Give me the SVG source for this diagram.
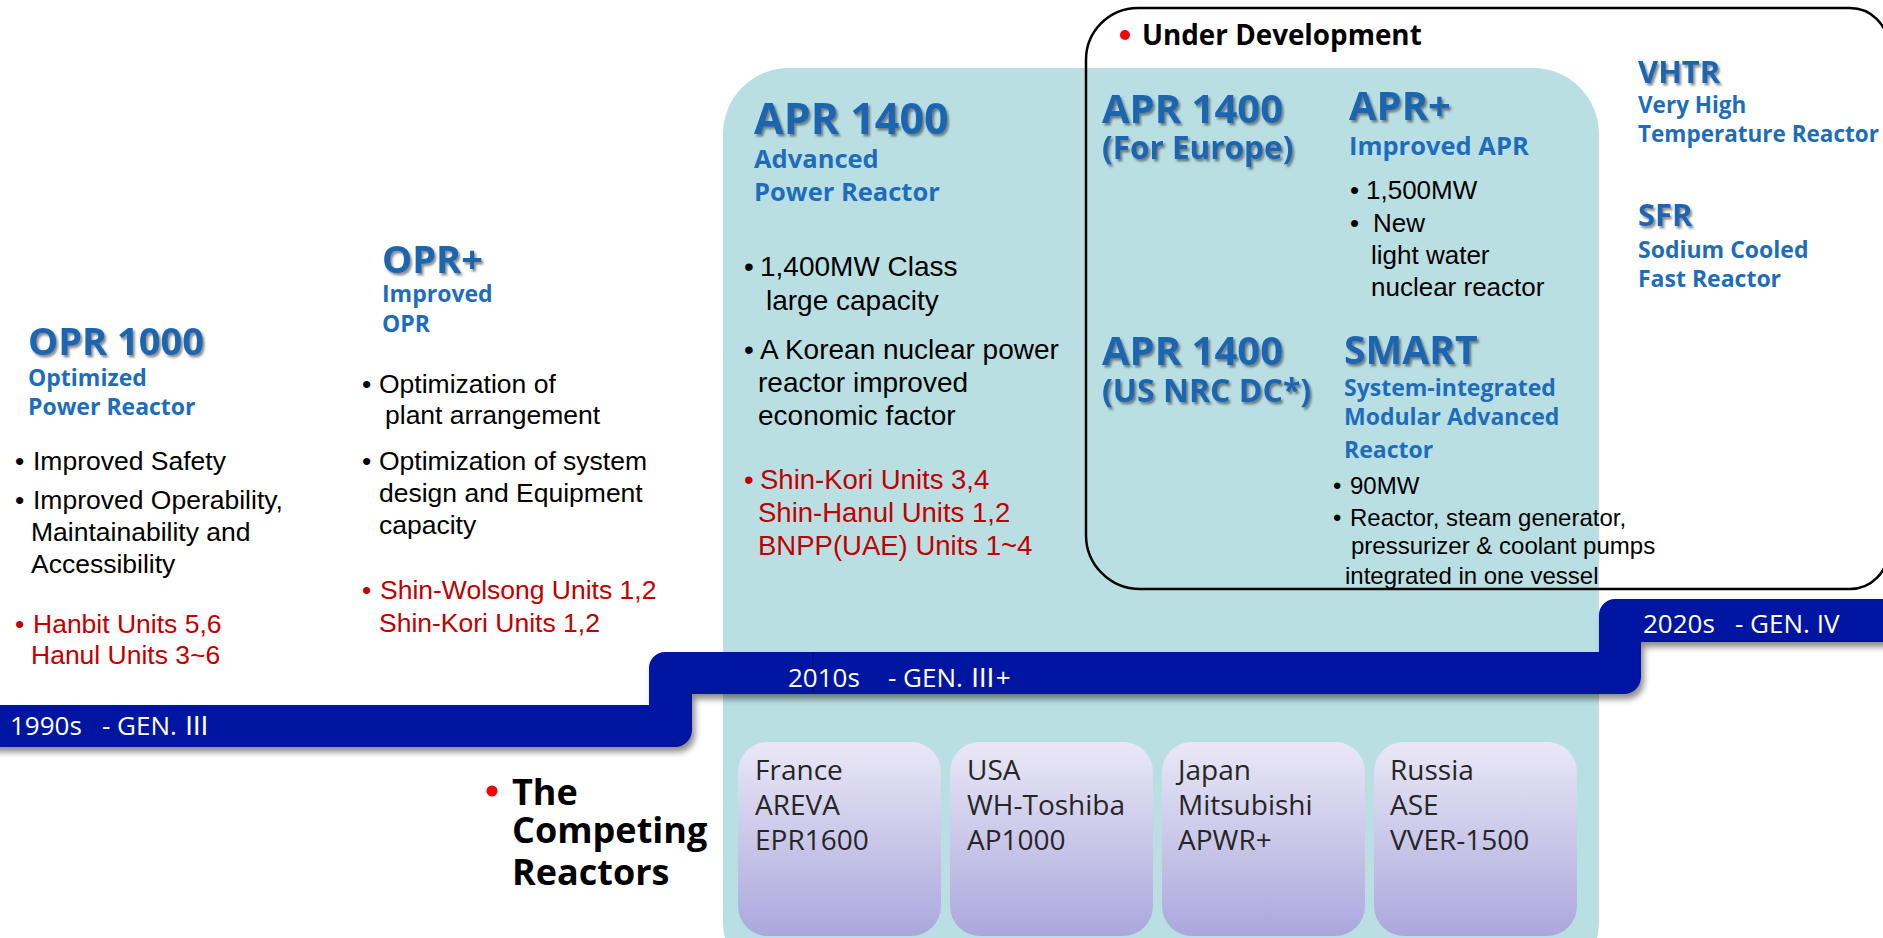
<svg xmlns="http://www.w3.org/2000/svg" width="1883" height="938" viewBox="0 0 1883 938">
  <defs>
    <filter id="txtShadow" x="-10%" y="-20%" width="130%" height="160%">
      <feDropShadow dx="2" dy="2.5" stdDeviation="1.2" flood-color="#333" flood-opacity="0.55"/>
    </filter>
    <filter id="bandShadow" x="-5%" y="-20%" width="110%" height="150%">
      <feDropShadow dx="3" dy="5" stdDeviation="3" flood-color="#000" flood-opacity="0.45"/>
    </filter>
    <linearGradient id="boxFill" x1="0" y1="0" x2="0" y2="1">
      <stop offset="0" stop-color="#EAE8F6"/>
      <stop offset="1" stop-color="#ABA7DD"/>
    </linearGradient>
  </defs>
  <style>
    .title { font-family: "Open Sans", "Noto Sans", sans-serif; font-weight: 700; fill: #1B66B1; filter: url(#txtShadow); }
    .sub { font-family: "Open Sans", "Noto Sans", sans-serif; font-weight: 700; fill: #1E6DBB; }
    .body { font-family: "Liberation Sans", Arial, sans-serif; fill: #000; }
    .red { fill: #C00000; }
    .head { font-family: "Open Sans", "Noto Sans", sans-serif; font-weight: 700; fill: #000; }
    .dot { fill: #FF0000; }
    .band-label { font-family: "Open Sans", "Noto Sans CJK KR", sans-serif; font-size: 26px; fill: #fff; }
    .comp { font-family: "Open Sans", "Noto Sans", sans-serif; font-size: 28px; fill: #262626; }
    .cbox { fill: url(#boxFill); }
  </style>

  <rect width="1883" height="938" fill="#fff"/>

  <!-- light blue APR 1400 era panel -->
  <rect id="panel-apr" x="723" y="68" width="876" height="920" rx="66" fill="#BADFE3"/>

  <!-- outline around the designs under development -->
  <g id="under-development">
    <path d="M1138 8 H1850 A38 38 0 0 1 1888 46 V551 A38 38 0 0 1 1850 589 H1140 A54 54 0 0 1 1086 535 V60 A52 52 0 0 1 1138 8 Z" fill="none" stroke="#000" stroke-width="2.5"/>
    <circle class="dot" cx="1125" cy="35" r="5"/>
    <text class="head" x="1142" y="45" font-size="27.8">Under Development</text>
  </g>

  <!-- stepped timeline band -->
  <g id="timeline">
    <path d="M-10 705 H649 V668 A16 16 0 0 1 665 652 H1599 V615 A16 16 0 0 1 1615 599 H1893 V642 H1641 V677 A17 17 0 0 1 1624 694 H692 V730 A17 17 0 0 1 675 747 H-10 Z" fill="#0512A3" filter="url(#bandShadow)"/>
    <line x1="813" y1="652" x2="813" y2="694" stroke="#000A55" stroke-width="1.5" opacity="0.7"/>
    <text class="band-label" x="10" y="735">1990s<tspan x="102">- GEN. Ⅲ</tspan></text>
    <text class="band-label" x="788" y="687">2010s<tspan x="888">- GEN. Ⅲ+</tspan></text>
    <text class="band-label" x="1643" y="633">2020s<tspan x="1735">- GEN. IV</tspan></text>
  </g>

  <!-- OPR 1000 -->
  <g id="node-opr1000">
    <text class="title" x="28" y="355" font-size="38">OPR 1000</text>
    <text class="sub" x="28" y="386" font-size="23">Optimized</text>
    <text class="sub" x="28" y="415" font-size="23">Power Reactor</text>
    <text class="body" font-size="26.5">
      <tspan x="15" y="470">•</tspan><tspan x="33" y="470">Improved Safety</tspan>
      <tspan x="15" y="509">•</tspan><tspan x="33" y="509">Improved Operability,</tspan>
      <tspan x="31" y="541">Maintainability and</tspan>
      <tspan x="31" y="573">Accessibility</tspan>
    </text>
    <text class="body red" font-size="26.5">
      <tspan x="15" y="633">•</tspan><tspan x="33" y="633">Hanbit Units 5,6</tspan>
      <tspan x="31" y="664">Hanul Units 3~6</tspan>
    </text>
  </g>

  <!-- OPR+ -->
  <g id="node-oprplus">
    <text class="title" x="382" y="273" font-size="38">OPR+</text>
    <text class="sub" x="382" y="302" font-size="23">Improved</text>
    <text class="sub" x="382" y="332" font-size="23">OPR</text>
    <text class="body" font-size="26.5">
      <tspan x="362" y="393">•</tspan><tspan x="379" y="393">Optimization of</tspan>
      <tspan x="385" y="424">plant arrangement</tspan>
      <tspan x="362" y="470">•</tspan><tspan x="379" y="470">Optimization of system</tspan>
      <tspan x="379" y="502">design and Equipment</tspan>
      <tspan x="379" y="534">capacity</tspan>
    </text>
    <text class="body red" font-size="26.5">
      <tspan x="362" y="599">•</tspan><tspan x="380" y="599">Shin-Wolsong Units 1,2</tspan>
      <tspan x="379" y="632">Shin-Kori Units 1,2</tspan>
    </text>
  </g>

  <!-- APR 1400 -->
  <g id="node-apr1400">
    <text class="title" x="754" y="134" font-size="43">APR 1400</text>
    <text class="sub" x="754" y="168" font-size="25.5">Advanced</text>
    <text class="sub" x="754" y="201" font-size="25.5">Power Reactor</text>
    <text class="body" font-size="28">
      <tspan x="744" y="276">•</tspan><tspan x="760" y="276">1,400MW Class</tspan>
      <tspan x="766" y="310">large capacity</tspan>
      <tspan x="744" y="359">•</tspan><tspan x="760" y="359">A Korean nuclear power</tspan>
      <tspan x="758" y="392">reactor improved</tspan>
      <tspan x="758" y="425">economic factor</tspan>
    </text>
    <text class="body red" font-size="27.5">
      <tspan x="744" y="489">•</tspan><tspan x="760" y="489">Shin-Kori Units 3,4</tspan>
      <tspan x="758" y="522">Shin-Hanul Units 1,2</tspan>
      <tspan x="758" y="555">BNPP(UAE) Units 1~4</tspan>
    </text>
  </g>

  <!-- APR 1400 for Europe -->
  <g id="node-apr1400-eu">
    <text class="title" x="1102" y="123" font-size="40">APR 1400</text>
    <text class="title" x="1102" y="159" font-size="31.5">(For Europe)</text>
  </g>

  <!-- APR 1400 US NRC design certification -->
  <g id="node-apr1400-us">
    <text class="title" x="1102" y="365" font-size="40">APR 1400</text>
    <text class="title" x="1102" y="402" font-size="32">(US NRC DC*)</text>
  </g>

  <!-- APR+ -->
  <g id="node-aprplus">
    <text class="title" x="1349" y="120" font-size="40">APR+</text>
    <text class="sub" x="1349" y="155" font-size="25.5">Improved APR</text>
    <text class="body" font-size="26">
      <tspan x="1350" y="199">•</tspan><tspan x="1366" y="199">1,500MW</tspan>
      <tspan x="1350" y="232">•</tspan><tspan x="1373" y="232">New</tspan>
      <tspan x="1371" y="264">light water</tspan>
      <tspan x="1371" y="296">nuclear reactor</tspan>
    </text>
  </g>

  <!-- SMART -->
  <g id="node-smart">
    <text class="title" x="1344" y="364" font-size="39">SMART</text>
    <text class="sub" x="1344" y="396" font-size="23">System-integrated</text>
    <text class="sub" x="1344" y="425" font-size="23">Modular Advanced</text>
    <text class="sub" x="1344" y="458" font-size="23">Reactor</text>
    <text class="body" font-size="24">
      <tspan x="1333" y="494">•</tspan><tspan x="1350" y="494">90MW</tspan>
      <tspan x="1333" y="526">•</tspan><tspan x="1350" y="526">Reactor, steam generator,</tspan>
      <tspan x="1351" y="554">pressurizer &amp; coolant pumps</tspan>
      <tspan x="1345" y="584">integrated in one vessel</tspan>
    </text>
  </g>

  <!-- VHTR -->
  <g id="node-vhtr">
    <text class="title" x="1638" y="83" font-size="31">VHTR</text>
    <text class="sub" x="1638" y="113" font-size="22.5">Very High</text>
    <text class="sub" x="1638" y="142" font-size="22.5">Temperature Reactor</text>
  </g>

  <!-- SFR -->
  <g id="node-sfr">
    <text class="title" x="1638" y="226" font-size="31">SFR</text>
    <text class="sub" x="1638" y="258" font-size="23">Sodium Cooled</text>
    <text class="sub" x="1638" y="287" font-size="23">Fast Reactor</text>
  </g>

  <!-- competing reactors label -->
  <g id="node-competing">
    <circle class="dot" cx="492" cy="791" r="5.5"/>
    <text class="head" font-size="36">
      <tspan x="512" y="805">The</tspan>
      <tspan x="512" y="843">Competing</tspan>
      <tspan x="512" y="885">Reactors</tspan>
    </text>
  </g>

  <!-- competitor boxes -->
  <g id="node-france">
    <rect class="cbox" x="738" y="742" width="203" height="194" rx="30"/>
    <text class="comp"><tspan x="755" y="780">France</tspan><tspan x="755" y="815">AREVA</tspan><tspan x="755" y="850">EPR1600</tspan></text>
  </g>
  <g id="node-usa">
    <rect class="cbox" x="950" y="742" width="203" height="194" rx="30"/>
    <text class="comp"><tspan x="967" y="780">USA</tspan><tspan x="967" y="815">WH-Toshiba</tspan><tspan x="967" y="850">AP1000</tspan></text>
  </g>
  <g id="node-japan">
    <rect class="cbox" x="1162" y="742" width="203" height="194" rx="30"/>
    <text class="comp"><tspan x="1178" y="780">Japan</tspan><tspan x="1178" y="815">Mitsubishi</tspan><tspan x="1178" y="850">APWR+</tspan></text>
  </g>
  <g id="node-russia">
    <rect class="cbox" x="1374" y="742" width="203" height="194" rx="30"/>
    <text class="comp"><tspan x="1390" y="780">Russia</tspan><tspan x="1390" y="815">ASE</tspan><tspan x="1390" y="850">VVER-1500</tspan></text>
  </g>
</svg>
